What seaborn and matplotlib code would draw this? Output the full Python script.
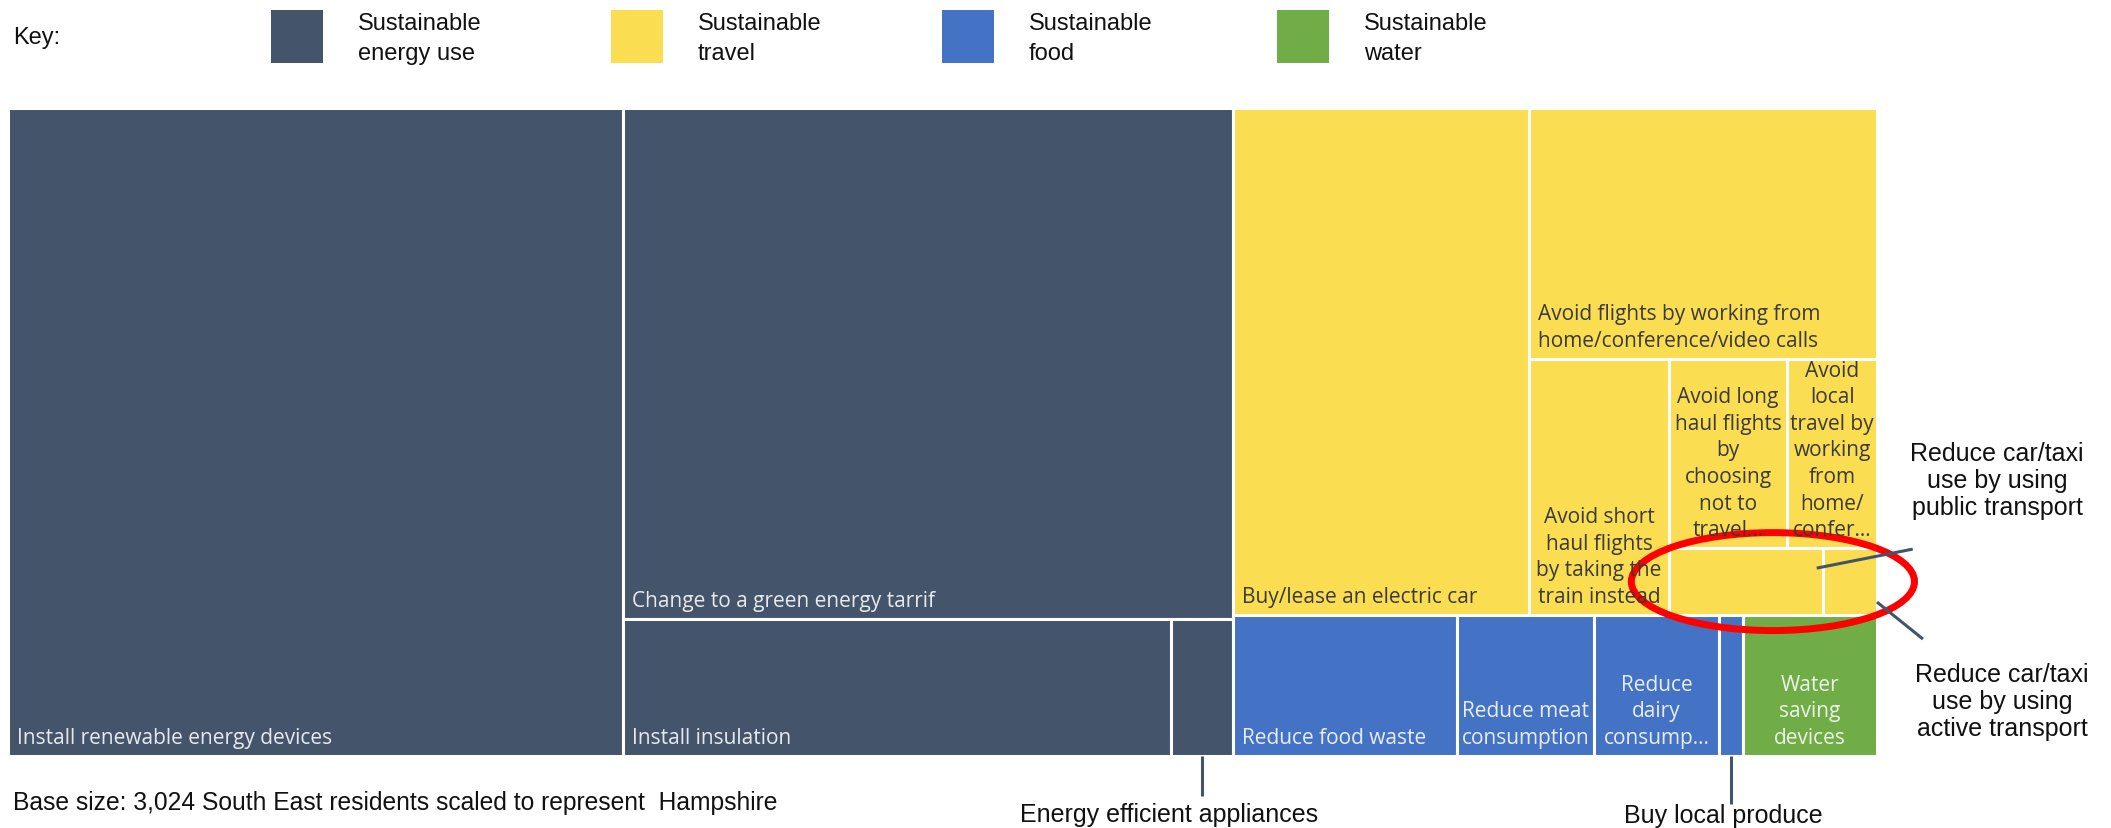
import matplotlib
matplotlib.use("Agg")
import matplotlib.pyplot as plt
from matplotlib.patches import Rectangle, Ellipse
import seaborn as sns

# key / groups
groups = ["Sustainable\nenergy use", "Sustainable\ntravel", "Sustainable\nfood", "Sustainable\nwater"]
group_colors = ["#44546A", "#FBDD52", "#4472C4", "#70AD47"]

# share of residents taking each action (%)
energy_actions = ["Install renewable energy devices", "Change to a green energy tarrif",
                  "Install insulation", "Energy efficient appliances"]
energy_values = [32.9, 25.7, 6.2, 0.7]

travel_actions = ["Buy/lease an electric car",
                  "Avoid flights by working from\nhome/conference/video calls",
                  "Avoid short\nhaul flights\nby taking the\ntrain instead",
                  "Avoid long\nhaul flights\nby\nchoosing\nnot to\ntravel...",
                  "Avoid\nlocal\ntravel by\nworking\nfrom\nhome/\nconfer...",
                  "Reduce car/taxi\nuse by using\npublic transport",
                  "Reduce car/taxi\nuse by using\nactive transport"]
travel_values = [12.4, 7.2, 2.95, 1.85, 1.4, 0.85, 0.3]

food_actions = ["Reduce food waste", "Reduce meat\nconsumption", "Reduce\ndairy\nconsump...",
                "Buy local produce"]
food_values = [2.6, 1.6, 1.45, 0.28]

water_actions = ["Water\nsaving\ndevices"]
water_values = [1.56]

# which tiles carry their label inside, and how it is aligned
energy_label = ["left", "left", "left", None]
travel_label = ["left", "left", "center", "center", "center", None, None]
food_label = ["left", "center", "center", None]
water_label = ["center"]

footnote = "Base size: 3,024 South East residents scaled to represent  Hampshire"


def squarify(values, x, y, dx, dy, ratio=1.075):
    # squarified treemap, rows laid along the shorter side
    rects = []
    i, n = 0, len(values)
    while i < n:
        remaining = sum(values[i:])
        across = dx < dy
        side, depth = (dx, dy) if across else (dy, dx)

        def score(row):
            s = sum(row)
            thick = depth * s / remaining
            a = [thick / (side * v / s) for v in row]
            return max(max(a) / ratio, ratio / min(a))

        j = i + 1
        best = score(values[i:j])
        while j < n:
            new = score(values[i:j + 1])
            if new > best:
                break
            best = new
            j += 1
        s = sum(values[i:j])
        thick = depth * s / remaining
        pos = 0
        for v in values[i:j]:
            length = side * v / s
            if across:
                rects.append((x + pos, y, length, thick))
            else:
                rects.append((x, y + pos, thick, length))
            pos += length
        if across:
            y += thick
            dy -= thick
        else:
            x += thick
            dx -= thick
        i = j
    return rects


sns.set_theme(style="white")
plt.rcParams["font.family"] = ["Liberation Sans", "DejaVu Sans"]
palette = sns.color_palette(group_colors)

W, H = 2111, 829
fig = plt.figure(figsize=(W / 100, H / 100), dpi=100)
ax = fig.add_axes([0, 0, 1, 1])
ax.set_xlim(0, W)
ax.set_ylim(H, 0)
ax.axis("off")

all_values = [energy_values, travel_values, food_values, water_values]
all_actions = [energy_actions, travel_actions, food_actions, water_actions]
all_labels = [energy_label, travel_label, food_label, water_label]
text_colors = ["#FFFFFF", "#3A3A3A", "#FFFFFF", "#FFFFFF"]

group_rects = squarify([sum(v) for v in all_values], 8, 109, 1869, 648)
tiles = {}
for g, (gx, gy, gw, gh) in enumerate(group_rects):
    rects = squarify(all_values[g], gx, gy, gw, gh)
    for k, (x, y, w, h) in enumerate(rects):
        ax.add_patch(Rectangle((x, y), w, h, facecolor=palette[g], edgecolor="white", linewidth=2.2))
        tiles[all_actions[g][k]] = (x, y, w, h)
        style = all_labels[g][k]
        if style is None:
            continue
        tx = x + 9 if style == "left" else x + w / 2
        ax.text(tx, y + h - 8, all_actions[g][k], ha=style, va="bottom", multialignment=style,
                fontsize=15, family=["Open Sans", "DejaVu Sans"], color=text_colors[g],
                alpha=0.88 if g != 1 else 1, linespacing=1.35)

# key
ax.text(13, 38, "Key:", ha="left", va="center", fontsize=17, color="#111111")
key_x = [271, 611, 942, 1277]
for g, name in enumerate(groups):
    ax.add_patch(Rectangle((key_x[g], 11), 52, 53, facecolor=palette[g], edgecolor="none"))
    ax.text(key_x[g] + 87, 39, name, ha="left", va="center", fontsize=17, color="#111111",
            linespacing=1.45)

ax.text(13, 803, footnote, ha="left", va="center", fontsize=17.7, color="#111111")

# call-outs for tiles too small to label
line_kw = dict(color="#44546A", linewidth=2.2, solid_capstyle="butt")
x, y, w, h = tiles["Energy efficient appliances"]
ax.plot([x + w / 2, x + w / 2], [y + h, y + h + 40], **line_kw)
ax.text(x + w / 2 - 33, y + h + 58, "Energy efficient appliances", ha="center", va="center",
        fontsize=18, color="#111111")

x, y, w, h = tiles["Buy local produce"]
ax.plot([x + w / 2, x + w / 2], [y + h, y + h + 48], **line_kw)
ax.text(x + w / 2 - 8, y + h + 59, "Buy local produce", ha="center", va="center",
        fontsize=18, color="#111111")

px, py, pw, ph = tiles[travel_actions[5]]
ax.plot([px + pw - 6, px + pw + 90], [py + 20, py + 1], **line_kw)
ax.text(1997, 481, travel_actions[5], ha="center", va="center", fontsize=18,
        color="#111111", linespacing=1.17)

qx, qy, qw, qh = tiles[travel_actions[6]]
ax.plot([qx + qw, qx + qw + 46], [qy + qh - 13, qy + qh + 24], **line_kw)
ax.text(2002, 702, travel_actions[6], ha="center", va="center", fontsize=18,
        color="#111111", linespacing=1.17)

# red highlight round the two car/taxi tiles
cx = (px + qx + qw) / 2
cy = py + ph / 2
ax.add_patch(Ellipse((cx, cy), (qx + qw - px) + 75, ph + 31, fill=False,
                     edgecolor="#FF0000", linewidth=5))

fig.savefig("out.png", dpi=100)
